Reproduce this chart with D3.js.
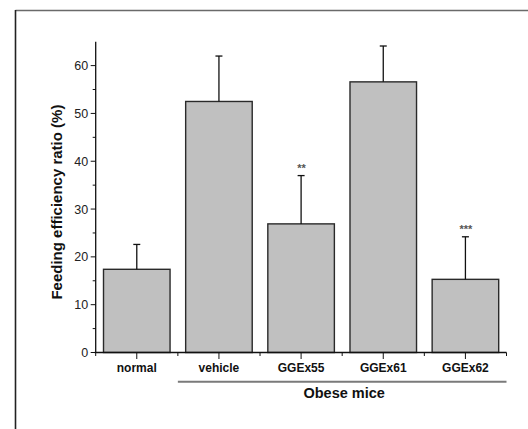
<!DOCTYPE html>
<html>
<head>
<meta charset="utf-8">
<script src="https://cdn.jsdelivr.net/npm/d3@7"></script>
<style>
  html, body { margin: 0; padding: 0; background: #fff; }
  svg { display: block; font-family: "Liberation Sans", Arial, sans-serif; }
</style>
</head>
<body>
<svg id="chart" width="528" height="429"></svg>
<script>
// data
const groups = ["normal", "vehicle", "GGEx55", "GGEx61", "GGEx62"];
const means = [17.4, 52.5, 26.9, 56.6, 15.3];
const errs = [5.2, 9.5, 10.1, 7.5, 8.9];
const marks = ["", "", "**", "", "***"];
const yTicks = [0, 10, 20, 30, 40, 50, 60];
const yMinor = [5, 15, 25, 35, 45, 55];
const bracketGroups = ["vehicle", "GGEx62"];
const bracketLabel = "Obese mice";
const yTitle = "Feeding efficiency ratio (%)";

const svg = d3.select("#chart");
const W = 528, H = 429;

// outer frame (only left and top edges show)
svg.append("line").attr("x1", 15.5).attr("x2", W).attr("y1", 10.5).attr("y2", 10.5)
  .attr("stroke", "#6a6a6a").attr("stroke-width", 1.5);
svg.append("line").attr("x1", 15.5).attr("x2", 15.5).attr("y1", 10).attr("y2", H)
  .attr("stroke", "#222").attr("stroke-width", 1.6);

const plotLeft = 95.7, plotRight = 506.5, plotTop = 41.7, plotBottom = 352.5;

const x = d3.scaleBand().domain(groups).range([plotLeft, plotRight]).paddingInner(0.19).paddingOuter(0.095);
const xb = d3.scaleBand().domain(groups).range([plotLeft, plotRight]);
const y = d3.scaleLinear().domain([0, 65]).range([plotBottom, plotTop]);
const mid = d => xb(d) + xb.bandwidth() / 2;

const g = svg.append("g");

// bars
g.selectAll("rect.bar")
  .data(groups)
  .join("rect")
  .attr("class", "bar")
  .attr("x", d => x(d))
  .attr("y", (d, i) => y(means[i]))
  .attr("width", x.bandwidth())
  .attr("height", (d, i) => y(0) - y(means[i]))
  .attr("fill", "#c0c0c0")
  .attr("stroke", "#2a2a2a")
  .attr("stroke-width", 1.4);

// error bars (upper only)
const eb = g.selectAll("g.err").data(groups).join("g").attr("class", "err");
eb.append("line")
  .attr("x1", mid).attr("x2", mid)
  .attr("y1", (d, i) => y(means[i]))
  .attr("y2", (d, i) => y(means[i] + errs[i]))
  .attr("stroke", "#111").attr("stroke-width", 1.3);
eb.append("line")
  .attr("x1", d => mid(d) - 3.5)
  .attr("x2", d => mid(d) + 3.5)
  .attr("y1", (d, i) => y(means[i] + errs[i]))
  .attr("y2", (d, i) => y(means[i] + errs[i]))
  .attr("stroke", "#111").attr("stroke-width", 1.3);

// significance stars
g.selectAll("text.sig")
  .data(groups)
  .join("text")
  .attr("class", "sig")
  .attr("x", d => mid(d) + 0.5)
  .attr("y", (d, i) => y(means[i] + errs[i]) - 4)
  .attr("text-anchor", "middle")
  .attr("font-size", 11)
  .attr("font-weight", "bold")
  .attr("fill", "#555")
  .text((d, i) => marks[i]);

// y axis
const yAxis = g.append("g").attr("transform", `translate(${plotLeft},0)`);
yAxis.append("line").attr("x1", 0).attr("x2", 0).attr("y1", plotTop).attr("y2", plotBottom)
  .attr("stroke", "#111").attr("stroke-width", 1.3);
yAxis.selectAll("line.major").data(yTicks).join("line").attr("class", "major")
  .attr("x1", -5).attr("x2", 0).attr("y1", d => y(d)).attr("y2", d => y(d))
  .attr("stroke", "#111").attr("stroke-width", 1);
yAxis.selectAll("line.minor").data(yMinor).join("line").attr("class", "minor")
  .attr("x1", -3).attr("x2", 0).attr("y1", d => y(d)).attr("y2", d => y(d))
  .attr("stroke", "#111").attr("stroke-width", 1);
yAxis.selectAll("text").data(yTicks).join("text")
  .attr("x", -7.5).attr("y", d => y(d)).attr("dy", "0.36em")
  .attr("text-anchor", "end").attr("font-size", 12.5).attr("fill", "#222")
  .text(d => d);

// x axis
const xAxis = g.append("g");
xAxis.append("line").attr("x1", plotLeft - 1).attr("x2", plotRight).attr("y1", plotBottom).attr("y2", plotBottom)
  .attr("stroke", "#111").attr("stroke-width", 1.3);
xAxis.selectAll("line.major").data(groups).join("line").attr("class", "major")
  .attr("x1", mid).attr("x2", mid)
  .attr("y1", plotBottom).attr("y2", plotBottom + 6.5)
  .attr("stroke", "#111").attr("stroke-width", 1);
xAxis.selectAll("line.minor").data(groups.concat(["__end"])).join("line").attr("class", "minor")
  .attr("x1", d => d === "__end" ? plotRight : xb(d)).attr("x2", d => d === "__end" ? plotRight : xb(d))
  .attr("y1", plotBottom).attr("y2", plotBottom + 3.5)
  .attr("stroke", "#111").attr("stroke-width", 1);
xAxis.selectAll("text").data(groups).join("text")
  .attr("x", mid).attr("y", plotBottom + 19)
  .attr("text-anchor", "middle").attr("font-size", 12).attr("font-weight", "bold").attr("fill", "#111")
  .text(d => d);

// bracket under obese groups
const bx0 = xb(bracketGroups[0]), bx1 = xb(bracketGroups[1]) + xb.bandwidth();
g.append("line").attr("x1", bx0).attr("x2", bx1).attr("y1", 381.7).attr("y2", 381.7)
  .attr("stroke", "#7a7a7a").attr("stroke-width", 2);
g.append("text").attr("x", (bx0 + bx1) / 2 + 2).attr("y", 397.5)
  .attr("text-anchor", "middle").attr("font-size", 14.5).attr("font-weight", "bold").attr("fill", "#111")
  .text(bracketLabel);

// y title
g.append("text")
  .attr("transform", `translate(62,${(plotTop + plotBottom) / 2 + 5}) rotate(-90)`)
  .attr("text-anchor", "middle").attr("font-size", 15).attr("font-weight", "bold").attr("fill", "#111")
  .text(yTitle);
</script>
</body>
</html>
